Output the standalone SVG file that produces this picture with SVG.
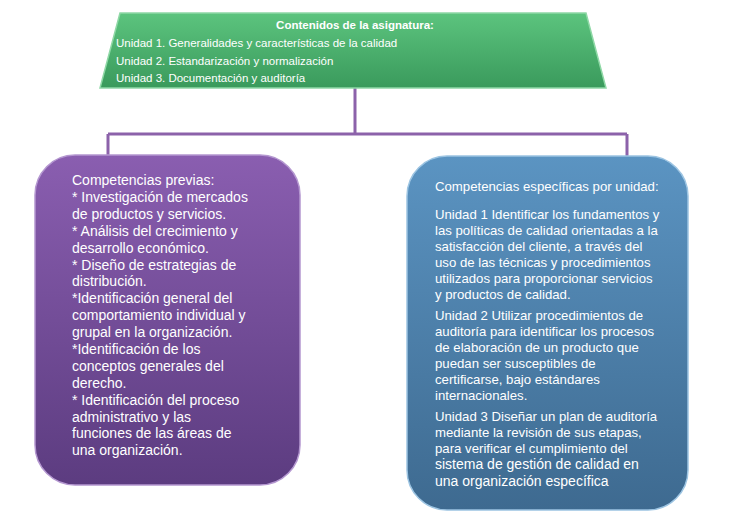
<svg xmlns="http://www.w3.org/2000/svg" width="741" height="532" viewBox="0 0 741 532">
<defs>
<linearGradient id="gG" x1="0" y1="0" x2="0" y2="1"><stop offset="0" stop-color="#5cc47e"/><stop offset="1" stop-color="#3a9a5c"/></linearGradient>
<linearGradient id="gP" x1="0" y1="0" x2="0" y2="1"><stop offset="0" stop-color="#8a5eb0"/><stop offset="1" stop-color="#5c3c80"/></linearGradient>
<linearGradient id="gB" x1="0" y1="0" x2="0" y2="1"><stop offset="0" stop-color="#5b94c2"/><stop offset="1" stop-color="#3e6a90"/></linearGradient>
</defs>
<style>
text{font-family:"Liberation Sans",Arial,sans-serif;fill:#fff}
.t{font-size:11.5px}
.l{font-size:14px}
.r{font-size:13.2px}
.c{stroke:#8c62aa;stroke-width:3;fill:none}
</style>
<g id="connectors">
<path class="c" d="M355 88V134M108 134H627M108 134V156M627 134V157"/>
</g>
<g id="top">
<polygon points="120,13 586,13 606,88 100,88" fill="url(#gG)" stroke="#8fd8a6" stroke-width="1.5"/>
<text x="355" y="29" class="t" text-anchor="middle" font-weight="bold">Contenidos de la asignatura:</text>
<text x="116" y="47" class="t">Unidad 1. Generalidades y características de la calidad</text>
<text x="116" y="65" class="t">Unidad 2. Estandarización y normalización</text>
<text x="116" y="82" class="t">Unidad 3. Documentación y auditoría</text>
</g>
<g id="left">
<rect x="35" y="155" width="265" height="330" rx="40" fill="url(#gP)" stroke="#b497d0" stroke-width="1.5"/>
<text class="l" x="72" y="185">
<tspan x="72">Competencias previas:</tspan>
<tspan x="72" dy="16.9">* Investigación de mercados</tspan>
<tspan x="72" dy="16.9">de productos y servicios.</tspan>
<tspan x="72" dy="16.9">* Análisis del crecimiento y</tspan>
<tspan x="72" dy="16.9">desarrollo económico.</tspan>
<tspan x="72" dy="16.9">* Diseño de estrategias de</tspan>
<tspan x="72" dy="16.9">distribución.</tspan>
<tspan x="72" dy="16.9">*Identificación general del</tspan>
<tspan x="72" dy="16.9">comportamiento individual y</tspan>
<tspan x="72" dy="16.9">grupal en la organización.</tspan>
<tspan x="72" dy="16.9">*Identificación de los</tspan>
<tspan x="72" dy="16.9">conceptos generales del</tspan>
<tspan x="72" dy="16.9">derecho.</tspan>
<tspan x="72" dy="16.9">* Identificación del proceso</tspan>
<tspan x="72" dy="16.9">administrativo y las</tspan>
<tspan x="72" dy="16.9">funciones de las áreas de</tspan>
<tspan x="72" dy="16.9">una organización.</tspan>
</text>
</g>
<g id="right">
<rect x="407" y="156" width="281" height="354" rx="40" fill="url(#gB)" stroke="#9cc4e2" stroke-width="1.5"/>
<text class="r" x="435" y="191">Competencias específicas por unidad:</text>
<text class="r" x="435" y="219">
<tspan x="435">Unidad 1 Identificar los fundamentos y</tspan>
<tspan x="435" dy="16">las políticas de calidad orientadas a la</tspan>
<tspan x="435" dy="16">satisfacción del cliente, a través del</tspan>
<tspan x="435" dy="16">uso de las técnicas y procedimientos</tspan>
<tspan x="435" dy="16">utilizados para proporcionar servicios</tspan>
<tspan x="435" dy="16">y productos de calidad.</tspan>
</text>
<text class="r" x="435" y="320">
<tspan x="435">Unidad 2 Utilizar procedimientos de</tspan>
<tspan x="435" dy="16">auditoría para identificar los procesos</tspan>
<tspan x="435" dy="16">de elaboración de un producto que</tspan>
<tspan x="435" dy="16">puedan ser susceptibles de</tspan>
<tspan x="435" dy="16">certificarse, bajo estándares</tspan>
<tspan x="435" dy="16">internacionales.</tspan>
</text>
<text class="r" x="435" y="421">
<tspan x="435">Unidad 3 Diseñar un plan de auditoría</tspan>
<tspan x="435" dy="16">mediante la revisión de sus etapas,</tspan>
<tspan x="435" dy="16">para verificar el cumplimiento del</tspan>
<tspan x="435" dy="16" font-size="14">sistema de gestión de calidad en</tspan>
<tspan x="435" dy="17" font-size="14">una organización específica</tspan>
</text>
</g>
</svg>
